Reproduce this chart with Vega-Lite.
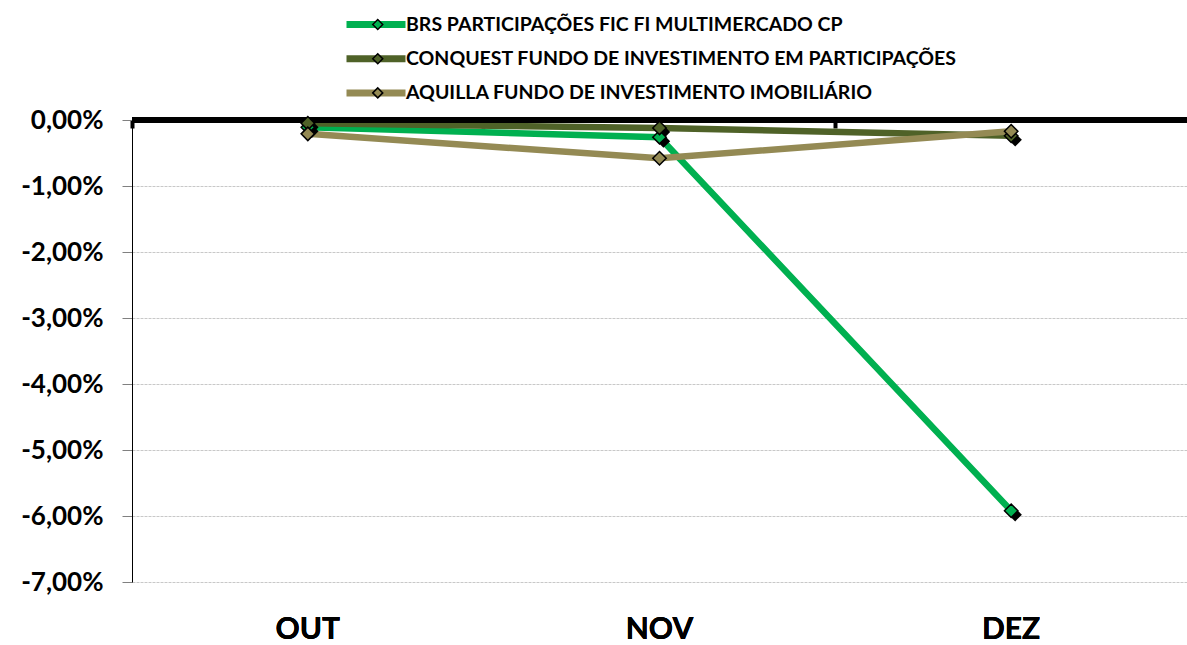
{
  "$schema": "https://vega.github.io/schema/vega-lite/v6.json",
  "width": 1055,
  "height": 462,
  "autosize": {"type": "none"},
  "padding": {"left": 132, "top": 120, "right": 0, "bottom": 63},
  "config": {
    "font": "Lato",
    "view": {"stroke": null},
    "locale": {"number": {"decimal": ",", "thousands": ".", "grouping": [3], "currency": ["R$", ""], "minus": "-"}}
  },
  "data": {
    "values": [
      {"mes": "OUT", "serie": "BRS PARTICIPAÇÕES FIC FI MULTIMERCADO CP", "valor": -0.0011},
      {"mes": "NOV", "serie": "BRS PARTICIPAÇÕES FIC FI MULTIMERCADO CP", "valor": -0.0026},
      {"mes": "DEZ", "serie": "BRS PARTICIPAÇÕES FIC FI MULTIMERCADO CP", "valor": -0.0592},
      {"mes": "OUT", "serie": "CONQUEST FUNDO DE INVESTIMENTO EM PARTICIPAÇÕES", "valor": -0.0005},
      {"mes": "NOV", "serie": "CONQUEST FUNDO DE INVESTIMENTO EM PARTICIPAÇÕES", "valor": -0.0012},
      {"mes": "DEZ", "serie": "CONQUEST FUNDO DE INVESTIMENTO EM PARTICIPAÇÕES", "valor": -0.0024},
      {"mes": "OUT", "serie": "AQUILLA FUNDO DE INVESTIMENTO IMOBILIÁRIO", "valor": -0.0021},
      {"mes": "NOV", "serie": "AQUILLA FUNDO DE INVESTIMENTO IMOBILIÁRIO", "valor": -0.0058},
      {"mes": "DEZ", "serie": "AQUILLA FUNDO DE INVESTIMENTO IMOBILIÁRIO", "valor": -0.0017}
    ]
  },
  "encoding": {
    "x": {
      "field": "mes", "type": "nominal", "sort": ["OUT", "NOV", "DEZ"],
      "scale": {"type": "band", "paddingInner": 0, "paddingOuter": 0},
      "axis": {"title": null, "orient": "bottom", "domain": false, "ticks": false, "grid": false,
        "labelAngle": 0, "labelFontSize": 30, "labelFontWeight": "bold", "labelColor": "black", "labelPadding": 32, "labelBaseline": "top"}
    },
    "y": {
      "field": "valor", "type": "quantitative",
      "scale": {"domain": [-0.07, 0], "nice": false, "zero": false},
      "axis": {"title": null, "format": ".2%", "values": [0, -0.01, -0.02, -0.03, -0.04, -0.05, -0.06, -0.07],
        "labelFontSize": 26, "labelFontWeight": "bold", "labelColor": "black", "labelPadding": 19,
        "tickColor": "#808080", "tickSize": 10, "domainColor": "black", "domainWidth": 1,
        "gridColor": "#c8c8c8", "gridDash": [3, 1], "gridWidth": 1}
    }
  },
  "layer": [
    {
      "mark": {"type": "point", "opacity": 0},
      "encoding": {
        "x": {"field": "mes", "type": "nominal", "sort": ["OUT", "NOV", "DEZ"],
          "axis": {"orient": "top", "title": null, "labels": false, "domain": false, "grid": false,
            "ticks": true, "bandPosition": 0, "tickSize": -8, "tickWidth": 4, "tickColor": "black"}}
      }
    },
    {
      "mark": {"type": "line", "strokeWidth": 6.5},
      "encoding": {
        "color": {
          "field": "serie", "type": "nominal",
          "scale": {"domain": ["BRS PARTICIPAÇÕES FIC FI MULTIMERCADO CP", "CONQUEST FUNDO DE INVESTIMENTO EM PARTICIPAÇÕES", "AQUILLA FUNDO DE INVESTIMENTO IMOBILIÁRIO"],
            "range": ["#00B050", "#4F6228", "#948A54"]},
          "legend": {"title": null, "orient": "none", "legendX": 211, "legendY": -104,
            "symbolType": "M-1,0H1", "symbolSize": 3481, "symbolStrokeWidth": 7,
            "labelFontSize": 19.5, "labelFontWeight": "bold", "labelColor": "black", "labelOffset": -3,
            "clipHeight": 17, "rowPadding": 14.2, "padding": 0, "labelLimit": 900}
        }
      }
    },
    {
      "mark": {"type": "rule", "color": "black", "strokeWidth": 5},
      "encoding": {"y": {"datum": 0}, "x": null}
    },
    {
      "transform": [{"filter": "datum.serie != 'AQUILLA FUNDO DE INVESTIMENTO IMOBILIÁRIO'"}],
      "mark": {"type": "point", "shape": "diamond", "size": 180, "filled": true, "color": "black", "opacity": 1, "xOffset": 4, "yOffset": 4}
    },
    {
      "mark": {"type": "point", "shape": "diamond", "size": 180, "filled": true, "stroke": "black", "strokeWidth": 1.5, "opacity": 1},
      "encoding": {
        "fill": {
          "field": "serie", "type": "nominal",
          "sort": ["BRS PARTICIPAÇÕES FIC FI MULTIMERCADO CP", "CONQUEST FUNDO DE INVESTIMENTO EM PARTICIPAÇÕES", "AQUILLA FUNDO DE INVESTIMENTO IMOBILIÁRIO"],
          "scale": {"range": ["#00B050", "#4F6228", "#948A54"]},
          "legend": {"title": null, "orient": "none", "legendX": 236, "legendY": -104,
            "symbolType": "diamond", "symbolSize": 100, "symbolStrokeColor": "black", "symbolStrokeWidth": 1.5,
            "labelFontSize": 19.5, "labelExpr": "''", "labelOffset": 2,
            "clipHeight": 17, "rowPadding": 14.2, "padding": 0}
        }
      }
    }
  ],
  "resolve": {"axis": {"x": "independent"}}
}
